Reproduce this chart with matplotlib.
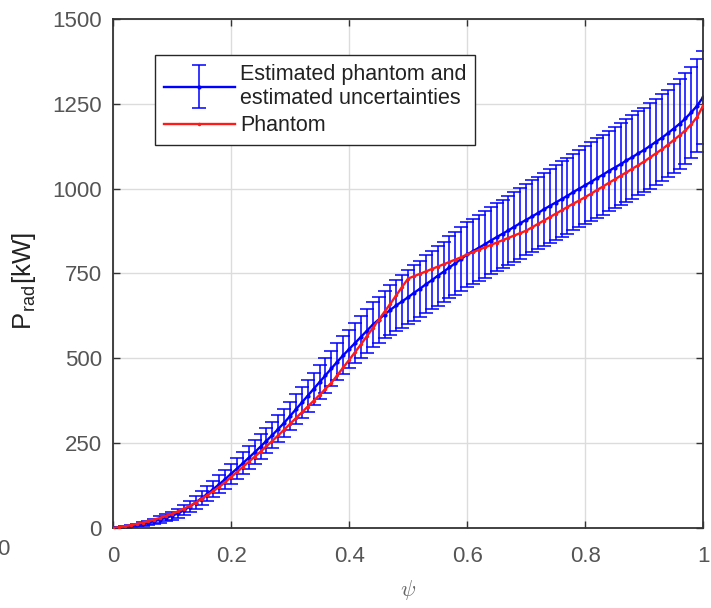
import numpy as np
import matplotlib
matplotlib.use("Agg")
import matplotlib.pyplot as plt
from matplotlib.legend_handler import HandlerErrorbar

# psi grid (normalised flux)
psi = [0.00, 0.01, 0.02, 0.03, 0.04, 0.05, 0.06, 0.07, 0.08, 0.09,
       0.10, 0.11, 0.12, 0.13, 0.14, 0.15, 0.16, 0.17, 0.18, 0.19,
       0.20, 0.21, 0.22, 0.23, 0.24, 0.25, 0.26, 0.27, 0.28, 0.29,
       0.30, 0.31, 0.32, 0.33, 0.34, 0.35, 0.36, 0.37, 0.38, 0.39,
       0.40, 0.41, 0.42, 0.43, 0.44, 0.45, 0.46, 0.47, 0.48, 0.49,
       0.50, 0.51, 0.52, 0.53, 0.54, 0.55, 0.56, 0.57, 0.58, 0.59,
       0.60, 0.61, 0.62, 0.63, 0.64, 0.65, 0.66, 0.67, 0.68, 0.69,
       0.70, 0.71, 0.72, 0.73, 0.74, 0.75, 0.76, 0.77, 0.78, 0.79,
       0.80, 0.81, 0.82, 0.83, 0.84, 0.85, 0.86, 0.87, 0.88, 0.89,
       0.90, 0.91, 0.92, 0.93, 0.94, 0.95, 0.96, 0.97, 0.98, 0.99,
       1.00]

# estimated phantom [kW]
p_est = [0, 1, 3, 6, 9, 12, 16, 20, 25, 30,
         36, 43, 52, 63, 75, 88, 101, 115, 129, 144,
         160, 175, 191, 207, 223, 240, 257, 274, 292, 310,
         330, 350, 370, 390, 410, 430, 450, 470, 490, 509,
         527, 545, 563, 581, 599, 614, 629, 643, 656, 668,
         680, 693, 705, 718, 730, 743, 755, 768, 780, 793,
         806, 816, 826, 836, 847, 857, 867, 877, 888, 898,
         908, 918, 928, 939, 949, 959, 969, 979, 990, 1000,
         1010, 1020, 1031, 1041, 1052, 1062, 1072, 1083, 1093, 1104,
         1114, 1126, 1138, 1150, 1163, 1177, 1191, 1207, 1225, 1245,
         1270]

# estimated uncertainty (half width) [kW]
p_err = [0, 1, 2, 3, 4, 5, 6, 7, 9, 10,
         12, 13, 15, 16, 18, 20, 22, 24, 26, 28,
         30, 31, 33, 34, 35, 36, 37, 39, 40, 41,
         42, 44, 45, 47, 48, 50, 52, 53, 55, 56,
         57, 59, 61, 64, 66, 68, 70, 73, 75, 78,
         80, 82, 83, 85, 86, 88, 89, 91, 92, 94,
         95, 96, 97, 98, 99, 100, 101, 102, 103, 104,
         105, 106, 107, 108, 109, 110, 111, 112, 113, 114,
         115, 116, 117, 118, 119, 120, 121, 122, 123, 124,
         125, 126, 127, 128, 129, 131, 132, 133, 134, 136,
         137]

# phantom [kW]
p_phantom = [0, 2, 5, 8, 12, 16, 20, 25, 30, 36,
             42, 49, 57, 65, 75, 86, 97, 109, 121, 135,
             150, 165, 180, 195, 210, 225, 241, 257, 273, 290,
             307, 324, 341, 358, 375, 392, 410, 428, 450, 473,
             495, 518, 541, 565, 589, 613, 637, 661, 686, 711,
             735, 742, 749, 756, 763, 770, 777, 784, 791, 798,
             806, 813, 820, 827, 834, 841, 848, 855, 862, 869,
             876, 886, 896, 906, 916, 926, 936, 946, 956, 965,
             975, 985, 996, 1006, 1017, 1027, 1038, 1048, 1059, 1069,
             1080, 1092, 1104, 1116, 1129, 1143, 1157, 1172, 1190, 1212,
             1245]

xticks = [0, 0.2, 0.4, 0.6, 0.8, 1]
xticklabels = ["0", "0.2", "0.4", "0.6", "0.8", "1"]
yticks = [0, 250, 500, 750, 1000, 1250, 1500]

plt.rcParams['font.family'] = ['Liberation Sans', 'DejaVu Sans']
plt.rcParams['mathtext.fontset'] = 'cm'

fig = plt.figure(figsize=(7.11, 6.08), dpi=100)
ax = fig.add_axes([0.159, 0.1316, 0.830, 0.8372])

eb = ax.errorbar(psi, p_est, yerr=p_err, color='#0000ff', ecolor='#0000ff',
                 elinewidth=1.1, capsize=5, capthick=1.1, lw=1.7,
                 marker='.', markersize=4, label='Estimated phantom and\nestimated uncertainties')
ph, = ax.plot(psi, p_phantom, color='#ff1a1a', lw=1.7, marker='.', markersize=3,
              label='Phantom', zorder=5)

ax.set_xlim(0, 1)
ax.set_ylim(0, 1500)
ax.set_xticks(xticks)
ax.set_xticklabels(xticklabels)
ax.set_yticks(yticks)
ax.grid(True, color='#dcdcdc', lw=1.0)
ax.set_axisbelow(True)
ax.tick_params(direction='in', length=5, width=1, colors='#333333',
               labelcolor='#555555', labelsize=16, top=True, right=True)
ax.tick_params(axis='x', pad=13)
ax.tick_params(axis='y', pad=8)
for s in ax.spines.values():
    s.set_color('#333333')
    s.set_linewidth(1.3)

ax.set_ylabel(r'P$_{\mathregular{rad}}$[kW]', fontsize=18.5, color='#222222')
ax.yaxis.set_label_coords(-0.128, 0.485)
ax.set_xlabel(r'$\psi$', fontsize=16, color='#666666', labelpad=8)

leg = ax.legend([eb, ph], ['Estimated phantom and\nestimated uncertainties', 'Phantom'],
                loc='upper left', bbox_to_anchor=(0.0712, 0.929), borderaxespad=0,
                fontsize=15.5, fancybox=False, framealpha=1, edgecolor='#262626',
                handlelength=3.3, handletextpad=0.25, borderpad=0.4, labelspacing=0.3,
                handler_map={type(eb): HandlerErrorbar(yerr_size=1.0)})
leg.get_frame().set_linewidth(1.0)
for t in leg.get_texts():
    t.set_color('#222222')

# cropped tick label of the neighbouring panel
fig.text(0.004, 0.097, '0', fontsize=16, color='#555555', ha='center', va='center')

fig.savefig('out.png', dpi=100)
